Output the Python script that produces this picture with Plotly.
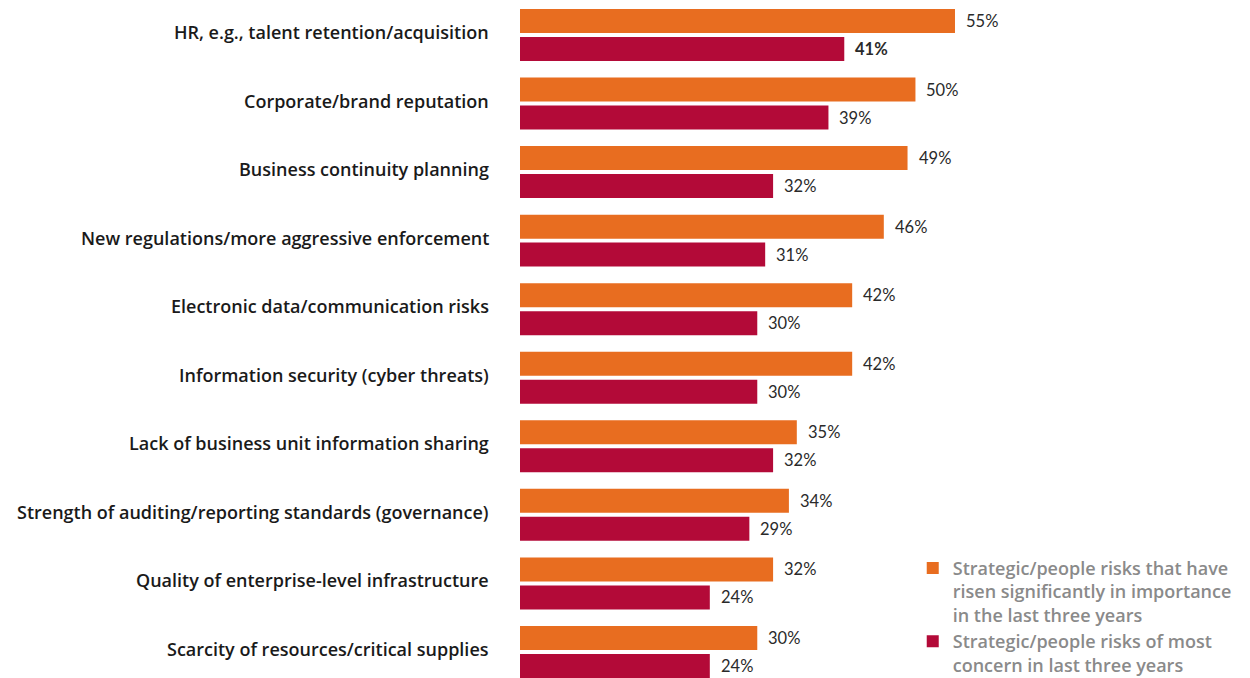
import plotly.graph_objects as go

# Risk categories, top to bottom
categories = [
    "HR, e.g., talent retention/acquisition",
    "Corporate/brand reputation",
    "Business continuity planning",
    "New regulations/more aggressive enforcement",
    "Electronic data/communication risks",
    "Information security (cyber threats)",
    "Lack of business unit information sharing",
    "Strength of auditing/reporting standards (governance)",
    "Quality of enterprise-level infrastructure",
    "Scarcity of resources/critical supplies",
]

# Share of respondents (%)
risen_importance = [55, 50, 49, 46, 42, 42, 35, 34, 32, 30]
most_concern = [41, 39, 32, 31, 30, 30, 32, 29, 24, 24]

series_names = [
    "Strategic/people risks that have<br>risen significantly in importance<br>in the last three years",
    "Strategic/people risks of most<br>concern in last three years",
]

ORANGE = "#E86D20"
CRIMSON = "#B30A38"
LABEL_FONT = "Open Sans"
VALUE_FONT = "Lato"

BAR_W = 0.35
INNER = 0.029

positions = list(range(len(categories)))

fig = go.Figure()
fig.add_trace(go.Bar(
    y=positions, x=risen_importance, orientation="h",
    name=series_names[0], marker=dict(color=ORANGE, line=dict(width=0)),
    width=BAR_W, offset=-(BAR_W + INNER), hoverinfo="skip",
))
fig.add_trace(go.Bar(
    y=positions, x=most_concern, orientation="h",
    name=series_names[1], marker=dict(color=CRIMSON, line=dict(width=0)),
    width=BAR_W, offset=INNER, hoverinfo="skip",
))

annotations = []
# category labels to the left of each group
for i, cat in enumerate(categories):
    annotations.append(dict(
        x=0, y=i, xref="x", yref="y", text=cat, showarrow=False,
        xanchor="right", yanchor="middle", xshift=-29, yshift=3,
        font=dict(family=LABEL_FONT, size=18, color="#1a1a1a", weight=600),
    ))
# value labels just past the end of each bar
centre = BAR_W / 2 + INNER
for i, (a, b) in enumerate(zip(risen_importance, most_concern)):
    annotations.append(dict(
        x=a, y=i - centre, xref="x", yref="y", text=f"{a}%", showarrow=False,
        xanchor="left", yanchor="middle", xshift=9,
        font=dict(family=VALUE_FONT, size=16.5, color="#2a2a2a"),
    ))
    txt = f"<b>{b}%</b>" if i == 0 else f"{b}%"
    annotations.append(dict(
        x=b, y=i + centre, xref="x", yref="y", text=txt, showarrow=False,
        xanchor="left", yanchor="middle", xshift=9,
        font=dict(family=VALUE_FONT, size=16.5, color="#2a2a2a"),
    ))

fig.update_layout(
    width=1250, height=678,
    margin=dict(l=520, r=0, t=0, b=0, autoexpand=False),
    paper_bgcolor="white", plot_bgcolor="white",
    barmode="overlay",
    xaxis=dict(range=[0, 92.3], visible=False, fixedrange=True),
    yaxis=dict(range=[9.38, -0.51], visible=False, fixedrange=True),
    showlegend=True,
    legend=dict(
        x=0.538, y=0.189, xanchor="left", yanchor="top",
        traceorder="normal", valign="top",
        font=dict(family=LABEL_FONT, size=18, color="#8a8a8a", weight=600),
        bgcolor="rgba(0,0,0,0)", itemclick=False, itemdoubleclick=False,
        tracegroupgap=0,
    ),
    annotations=annotations,
)

fig.write_html("out.html")
